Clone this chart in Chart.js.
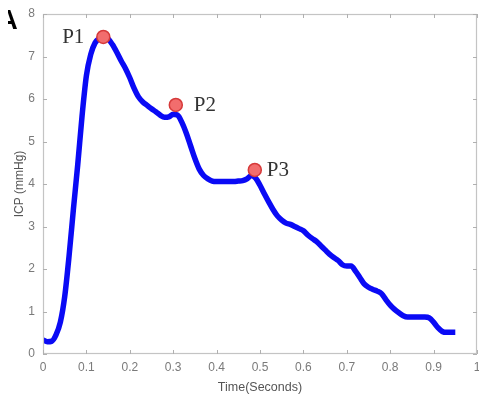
<!DOCTYPE html>
<html>
<head>
<meta charset="utf-8">
<script src="https://cdn.jsdelivr.net/npm/chart.js@4.4.1/dist/chart.umd.min.js"></script>
<style>
  html, body { margin: 0; padding: 0; background: #fff; }
  #wrap { width: 479px; height: 397px; }
</style>
</head>
<body>
<div id="wrap"><canvas id="c" width="479" height="397"></canvas></div>
<script>
// ---- data ----
const timeSeconds = [0, 0.01, 0.02, 0.03, 0.04, 0.05, 0.06, 0.07, 0.08, 0.09,
  0.10, 0.11, 0.12, 0.13, 0.14, 0.15, 0.16, 0.17, 0.18, 0.19,
  0.20, 0.21, 0.22, 0.23, 0.24, 0.25, 0.26, 0.27, 0.28, 0.29,
  0.30, 0.31, 0.32, 0.33, 0.34, 0.35, 0.36, 0.37, 0.38, 0.39,
  0.40, 0.41, 0.42, 0.43, 0.44, 0.45, 0.46, 0.47, 0.48, 0.49,
  0.50, 0.51, 0.52, 0.53, 0.54, 0.55, 0.56, 0.57, 0.58, 0.59,
  0.60, 0.61, 0.62, 0.63, 0.64, 0.65, 0.66, 0.67, 0.68, 0.69,
  0.70, 0.71, 0.72, 0.73, 0.74, 0.75, 0.76, 0.77, 0.78, 0.79,
  0.80, 0.81, 0.82, 0.83, 0.84, 0.85, 0.86, 0.87, 0.88, 0.89,
  0.90, 0.91, 0.92, 0.93, 0.94, 0.95];
const icpValues = [0.33, 0.29, 0.30, 0.45, 0.75, 1.35, 2.3, 3.4, 4.45, 5.6,
  6.55, 7.05, 7.32, 7.43, 7.47, 7.42, 7.28, 7.1, 6.9, 6.72,
  6.5, 6.25, 6.05, 5.93, 5.85, 5.77, 5.7, 5.62, 5.57, 5.58,
  5.64, 5.62, 5.45, 5.2, 4.9, 4.6, 4.35, 4.2, 4.12, 4.07,
  4.06, 4.06, 4.06, 4.06, 4.06, 4.07, 4.08, 4.12, 4.2, 4.14,
  3.97, 3.77, 3.58, 3.4, 3.25, 3.15, 3.08, 3.05, 3.0, 2.95,
  2.9, 2.8, 2.72, 2.65, 2.55, 2.45, 2.35, 2.27, 2.2, 2.1,
  2.07, 2.07, 1.95, 1.8, 1.65, 1.57, 1.52, 1.48, 1.42, 1.28,
  1.15, 1.05, 0.97, 0.9, 0.87, 0.87, 0.87, 0.87, 0.87, 0.85,
  0.75, 0.62, 0.53, 0.51, 0.51, 0.51];
const peakLabels = ['P1', 'P2', 'P3'];
const peakTimes = [0.139, 0.306, 0.488];
const peakValues = [7.46, 5.86, 4.33];
const xTicks = [0, 0.1, 0.2, 0.3, 0.4, 0.5, 0.6, 0.7, 0.8, 0.9, 1];
const yTicks = [0, 1, 2, 3, 4, 5, 6, 7, 8];

const curve = timeSeconds.map((t, i) => ({ x: t, y: icpValues[i] }));
const peaks = peakTimes.map((t, i) => ({ x: t, y: peakValues[i] }));

const boxPlugin = {
  id: 'box',
  afterDraw(chart) {
    const { ctx, chartArea: a, scales } = chart;
    ctx.save();
    ctx.strokeStyle = '#c4c4c4';
    ctx.lineWidth = 1.2;
    ctx.strokeRect(a.left + 0.5, a.top + 0.5, a.right - a.left - 1, a.bottom - a.top - 1);
    ctx.strokeStyle = '#b0b0b0';
    ctx.lineWidth = 1;
    const tl = 4;
    xTicks.forEach(v => {
      const px = Math.round(scales.x.getPixelForValue(v)) + 0.5;
      ctx.beginPath();
      ctx.moveTo(px, a.bottom); ctx.lineTo(px, a.bottom - tl);
      ctx.moveTo(px, a.top); ctx.lineTo(px, a.top + tl);
      ctx.stroke();
    });
    yTicks.forEach(v => {
      const py = Math.round(scales.y.getPixelForValue(v)) + 0.5;
      ctx.beginPath();
      ctx.moveTo(a.left, py); ctx.lineTo(a.left + tl, py);
      ctx.moveTo(a.right, py); ctx.lineTo(a.right - tl, py);
      ctx.stroke();
    });
    // peak labels
    ctx.fillStyle = '#333';
    ctx.font = '21px "Liberation Serif", "Times New Roman", serif';
    ctx.textBaseline = 'middle';
    const gaps = [19, 18, 12];
    peakLabels.forEach((lab, i) => {
      const px = scales.x.getPixelForValue(peakTimes[i]);
      const py = scales.y.getPixelForValue(peakValues[i]);
      if (i === 0) { ctx.textAlign = 'right'; ctx.fillText(lab, px - gaps[i], py + 1); }
      else { ctx.textAlign = 'left'; ctx.fillText(lab, px + gaps[i], py + 1); }
    });
    // cropped panel letter
    ctx.beginPath();
    ctx.rect(8, 0, 20, 40);
    ctx.clip();
    ctx.fillStyle = '#000';
    ctx.font = 'bold 27px "Liberation Sans", Arial, sans-serif';
    ctx.textAlign = 'center';
    ctx.textBaseline = 'alphabetic';
    ctx.fillText('A', 8, 29);
    ctx.restore();
  }
};

new Chart(document.getElementById('c'), {
  type: 'line',
  data: {
    datasets: [
      {
        data: peaks,
        showLine: false,
        pointRadius: 6.5,
        pointBackgroundColor: '#f26d6d',
        pointBorderColor: '#d63a3a',
        pointBorderWidth: 1.5,
        order: 0
      },
      {
        data: curve,
        borderColor: '#0a0af5',
        borderWidth: 5.5,
        pointRadius: 0,
        cubicInterpolationMode: 'monotone',
        fill: false,
        order: 1
      }
    ]
  },
  options: {
    responsive: false,
    animation: false,
    layout: { autoPadding: false, padding: { top: 14, right: 2, left: 0, bottom: 0 } },
    plugins: { legend: { display: false }, tooltip: { enabled: false } },
    scales: {
      x: {
        type: 'linear', min: 0, max: 1,
        afterFit(s) { s.height = 43; s.paddingRight = 0; s.paddingLeft = 0; },
        afterBuildTicks(s) { s.ticks = xTicks.map(v => ({ value: v })); },
        grid: { display: false, drawTicks: false },
        border: { display: false },
        ticks: {
          padding: 6, color: '#7a7a7a', maxRotation: 0, autoSkip: false,
          font: { family: '"Liberation Sans", Arial, sans-serif', size: 12 },
          callback: v => String(v)
        },
        title: {
          display: true, text: 'Time(Seconds)', color: '#555',
          font: { family: '"Liberation Sans", Arial, sans-serif', size: 12.5 },
          padding: { top: 0, bottom: 2 }
        }
      },
      y: {
        min: 0, max: 8,
        afterFit(s) { s.width = 43; s.paddingTop = 0; s.paddingBottom = 0; },
        afterBuildTicks(s) { s.ticks = yTicks.map(v => ({ value: v })); },
        grid: { display: false, drawTicks: false },
        border: { display: false },
        ticks: {
          padding: 8, color: '#7a7a7a',
          font: { family: '"Liberation Sans", Arial, sans-serif', size: 12 }
        },
        title: {
          display: true, text: 'ICP (mmHg)', color: '#555',
          font: { family: '"Liberation Sans", Arial, sans-serif', size: 12 },
          padding: { top: 12, bottom: 0 }
        }
      }
    }
  },
  plugins: [boxPlugin]
});
</script>
</body>
</html>
